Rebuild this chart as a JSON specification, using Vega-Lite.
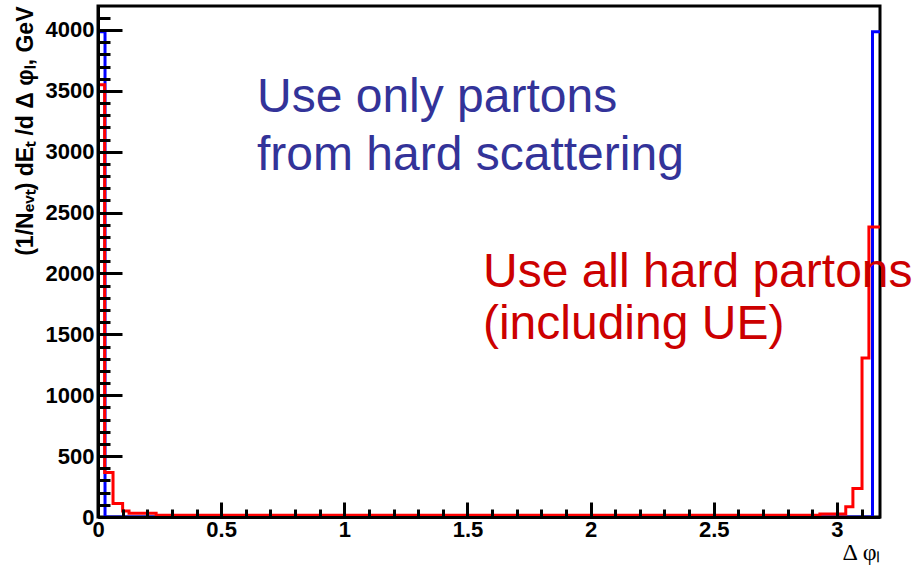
{
  "$schema": "https://vega.github.io/schema/vega-lite/v6.json",
  "width": 782,
  "height": 511,
  "autosize": {"type": "none"},
  "padding": {"left": 98, "top": 6, "right": 34, "bottom": 50},
  "background": "white",
  "config": {
    "view": {"stroke": "black", "strokeWidth": 3},
    "font": "Liberation Sans"
  },
  "datasets": {
    "blue": [
      {"dphi": 0, "value": 3985},
      {"dphi": 0.0285, "value": 0},
      {"dphi": 3.1445, "value": 3985},
      {"dphi": 3.175, "value": 3985}
    ],
    "red": [
      {"dphi": 0, "value": 3550},
      {"dphi": 0.027, "value": 365},
      {"dphi": 0.061, "value": 110},
      {"dphi": 0.1, "value": 50},
      {"dphi": 0.126, "value": 30},
      {"dphi": 0.236, "value": 15},
      {"dphi": 2.931, "value": 25},
      {"dphi": 3.036, "value": 85},
      {"dphi": 3.065, "value": 235},
      {"dphi": 3.102, "value": 1306},
      {"dphi": 3.13, "value": 2382},
      {"dphi": 3.175, "value": 2382}
    ],
    "notes": [
      {"label": "Use only partons", "group": "hard"},
      {"label": "from hard scattering", "group": "hard"},
      {"label": "Use all hard partons", "group": "all"},
      {"label": "(including UE)", "group": "all"}
    ]
  },
  "resolve": {"axis": {"x": "independent", "y": "independent"}},
  "layer": [
    {
      "data": {"name": "blue"},
      "mark": {"type": "line", "interpolate": "step-after", "color": "#0000ff", "strokeWidth": 3},
      "encoding": {
        "x": {
          "field": "dphi", "type": "quantitative",
          "scale": {"domain": [0, 3.175], "nice": false, "zero": false},
          "axis": {
            "orient": "bottom", "values": [0, 0.5, 1, 1.5, 2, 2.5, 3], "labelExpr": "toString(datum.value)",
            "tickSize": -15, "tickWidth": 3, "tickColor": "black",
            "domain": true, "domainColor": "black", "domainWidth": 3,
            "labelFont": "Liberation Sans", "labelFontWeight": "bold", "labelFontSize": 22, "labelColor": "black",
            "labelPadding": 17, "labelFlush": false, "labelOverlap": false,
            "grid": false, "zindex": 1,
            "title": "Δ φₗ", "titleFont": "Liberation Serif", "titleFontWeight": "normal", "titleFontSize": 24,
            "titleColor": "black", "titleAnchor": "end", "titlePadding": 0
          }
        },
        "y": {
          "field": "value", "type": "quantitative",
          "scale": {"domain": [0, 4197], "nice": false, "zero": true},
          "axis": {
            "orient": "left", "values": [0, 500, 1000, 1500, 2000, 2500, 3000, 3500, 4000], "format": "d",
            "tickSize": -24, "tickWidth": 3, "tickColor": "black",
            "domain": true, "domainColor": "black", "domainWidth": 3,
            "labelFont": "Liberation Sans", "labelFontWeight": "bold", "labelFontSize": 22, "labelColor": "black",
            "labelPadding": 28, "labelFlush": false, "labelOverlap": false,
            "grid": false, "zindex": 1,
            "title": "(1/Nₑᵥₜ) dEₜ /d Δ φₗ, GeV", "titleFont": "Liberation Sans", "titleFontWeight": "bold", "titleFontSize": 23,
            "titleColor": "black", "titleAnchor": "end", "titlePadding": 8
          }
        }
      }
    },
    {
      "data": {"name": "red"},
      "mark": {"type": "line", "interpolate": "step-after", "color": "#ff0000", "strokeWidth": 3},
      "encoding": {
        "x": {
          "field": "dphi", "type": "quantitative",
          "axis": {
            "orient": "bottom",
            "values": [0.1, 0.2, 0.3, 0.4, 0.6, 0.7, 0.8, 0.9, 1.1, 1.2, 1.3, 1.4, 1.6, 1.7, 1.8, 1.9, 2.1, 2.2, 2.3, 2.4, 2.6, 2.7, 2.8, 2.9, 3.1],
            "tickSize": -8, "tickWidth": 3, "tickColor": "black",
            "domain": false, "labels": false, "grid": false, "zindex": 1, "title": null
          }
        },
        "y": {
          "field": "value", "type": "quantitative",
          "axis": {
            "orient": "left",
            "values": [100, 200, 300, 400, 600, 700, 800, 900, 1100, 1200, 1300, 1400, 1600, 1700, 1800, 1900, 2100, 2200, 2300, 2400, 2600, 2700, 2800, 2900, 3100, 3200, 3300, 3400, 3600, 3700, 3800, 3900, 4100],
            "tickSize": -12, "tickWidth": 3, "tickColor": "black",
            "domain": false, "labels": false, "grid": false, "zindex": 1, "title": null
          }
        }
      }
    },
    {
      "data": {"name": "notes"},
      "transform": [{"filter": "datum.label == 'Use only partons'"}],
      "mark": {"type": "text", "font": "Liberation Sans", "fontSize": 48, "color": "#333399", "align": "left", "baseline": "alphabetic"},
      "encoding": {
        "text": {"field": "label"},
        "x": {"datum": 0.6455, "type": "quantitative", "axis": null},
        "y": {"datum": 3326, "type": "quantitative", "axis": null}
      }
    },
    {
      "data": {"name": "notes"},
      "transform": [{"filter": "datum.label == 'from hard scattering'"}],
      "mark": {"type": "text", "font": "Liberation Sans", "fontSize": 48, "color": "#333399", "align": "left", "baseline": "alphabetic"},
      "encoding": {
        "text": {"field": "label"},
        "x": {"datum": 0.6455, "type": "quantitative", "axis": null},
        "y": {"datum": 2850, "type": "quantitative", "axis": null}
      }
    },
    {
      "data": {"name": "notes"},
      "transform": [{"filter": "datum.label == 'Use all hard partons'"}],
      "mark": {"type": "text", "font": "Liberation Sans", "fontSize": 48, "color": "#cc0000", "align": "left", "baseline": "alphabetic"},
      "encoding": {
        "text": {"field": "label"},
        "x": {"datum": 1.563, "type": "quantitative", "axis": null},
        "y": {"datum": 1889, "type": "quantitative", "axis": null}
      }
    },
    {
      "data": {"name": "notes"},
      "transform": [{"filter": "datum.label == '(including UE)'"}],
      "mark": {"type": "text", "font": "Liberation Sans", "fontSize": 48, "color": "#cc0000", "align": "left", "baseline": "alphabetic"},
      "encoding": {
        "text": {"field": "label"},
        "x": {"datum": 1.563, "type": "quantitative", "axis": null},
        "y": {"datum": 1462, "type": "quantitative", "axis": null}
      }
    }
  ]
}
